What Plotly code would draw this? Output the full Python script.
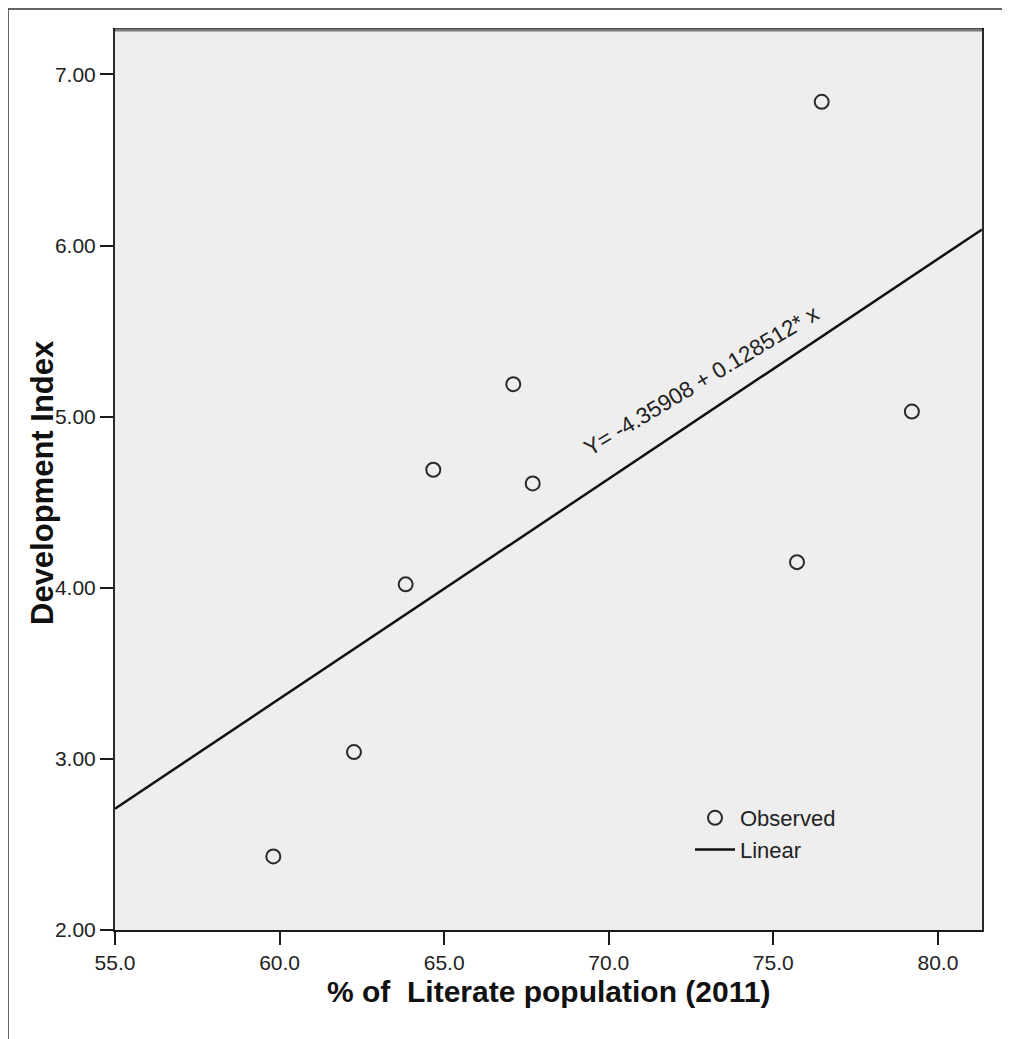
import plotly.graph_objects as go

# Data
literate_pct = [59.81, 62.26, 63.83, 64.67, 67.10, 67.69, 75.72, 76.47, 79.21]
dev_index = [2.43, 3.04, 4.02, 4.69, 5.19, 4.61, 4.15, 6.84, 5.03]
intercept = -4.35908
slope = 0.128512
x_range = [55.0, 81.34]
y_range = [2.0, 7.26]
x_ticks = [55.0, 60.0, 65.0, 70.0, 75.0, 80.0]
y_ticks = [2.0, 3.0, 4.0, 5.0, 6.0, 7.0]

FONT = "Arial, 'Liberation Sans', sans-serif"
DARK = "#222222"

line_x = x_range
line_y = [intercept + slope * v for v in line_x]

fig = go.Figure()
fig.add_trace(go.Scatter(
    x=literate_pct, y=dev_index, mode="markers", name="Observed",
    marker=dict(symbol="circle-open", size=14, color="#2a2a2a",
                line=dict(width=2, color="#2a2a2a")),
))
fig.add_trace(go.Scatter(
    x=line_x, y=line_y, mode="lines", name="Linear",
    line=dict(color="#111111", width=2.5),
))

ann_x = 72.83
fig.add_annotation(
    x=ann_x, y=intercept + slope * ann_x, xref="x", yref="y",
    text="Y= -4.35908 + 0.128512* x", showarrow=False,
    textangle=-31, yshift=36,
    font=dict(family=FONT, size=22.5, color=DARK),
)

# page body has an 8px margin; lay out in reference-pixel terms
OFF = 8
L, R, T, B = 115 - OFF, 28, 30 - OFF, 109
PW, PH = 867, 900
W, H = L + PW + R, T + PH + B

def px(xpix):  # reference screen x -> paper x
    return (xpix - 115) / PW

def py(ypix):  # reference screen y -> paper y
    return (930 - ypix) / PH

# axis titles
fig.add_annotation(x=px(548), y=py(991), xref="paper", yref="paper",
                   text="<b>% of  Literate population (2011)</b>", showarrow=False,
                   xanchor="center", yanchor="middle",
                   font=dict(family=FONT, size=30, color="#111111"))
fig.add_annotation(x=px(42), y=py(483), xref="paper", yref="paper",
                   text="<b>Development Index</b>", showarrow=False, textangle=-90,
                   xanchor="center", yanchor="middle",
                   font=dict(family=FONT, size=31, color="#111111"))

# outer frame of the image
fig.add_shape(type="rect", xref="paper", yref="paper",
              x0=px(8), x1=px(1016), y0=py(1045), y1=py(9),
              line=dict(color="#333333", width=1.5), layer="below")
# gray top edge of plot frame
fig.add_shape(type="line", xref="paper", yref="paper", x0=0, x1=1, y0=1, y1=1,
              line=dict(color="#7a7a7a", width=3), layer="above")

fig.update_layout(
    width=W, height=H,
    margin=dict(l=L, r=R, t=T, b=B),
    paper_bgcolor="white", plot_bgcolor="#eeeeee",
    font=dict(family=FONT, color=DARK),
    showlegend=True,
    legend=dict(x=px(690), y=py(797), xanchor="left", yanchor="top",
                bgcolor="rgba(0,0,0,0)", font=dict(family=FONT, size=22, color=DARK),
                tracegroupgap=0, itemwidth=40),
)
fig.update_xaxes(
    range=x_range, tickvals=x_ticks, tickformat=".1f",
    showgrid=False, zeroline=False,
    showline=True, mirror=True, linecolor="#1a1a1a", linewidth=2,
    ticks="outside", ticklen=13, tickwidth=2, tickcolor="#1a1a1a",
    tickfont=dict(family=FONT, size=21, color=DARK),
)
fig.update_yaxes(
    range=y_range, tickvals=y_ticks, tickformat=".2f",
    showgrid=False, zeroline=False,
    showline=True, mirror=True, linecolor="#2a2a2a", linewidth=2,
    ticks="outside", ticklen=13, tickwidth=2, tickcolor="#1a1a1a",
    tickfont=dict(family=FONT, size=21, color=DARK),
)

fig.write_html("out.html")
